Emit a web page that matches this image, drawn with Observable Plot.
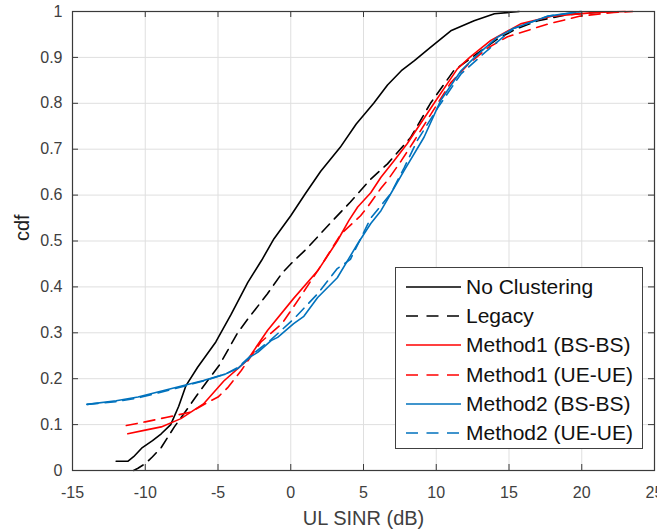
<!DOCTYPE html>
<html>
<head>
<meta charset="utf-8">
<script src="https://cdn.jsdelivr.net/npm/d3@7"></script>
<script src="https://cdn.jsdelivr.net/npm/@observablehq/plot@0.6"></script>
<style>
  body { margin: 0; background: #fff; }
  #wrap { position: relative; width: 672px; height: 529px; font-family: "Liberation Sans", Arial, sans-serif; }
  #legend { position: absolute; left: 395px; top: 267px; width: 246px; height: 180px; background: #fff; border: 1px solid #404040; }
  #legend .row { position: absolute; left: 0; height: 24px; display: flex; align-items: center; font-size: 21px; color: #111; white-space: nowrap; }
  #legend svg { display: block; margin-left: 10px; margin-right: 5px; }
  #cut { position: absolute; left: 657px; top: 476px; width: 15px; height: 24px; background: #fff; }
</style>
</head>
<body>
<div id="wrap"></div>
<script>
// ---- data ----
const xTicks = [-15, -10, -5, 0, 5, 10, 15, 20, 25];
const yTicks = [0, 0.1, 0.2, 0.3, 0.4, 0.5, 0.6, 0.7, 0.8, 0.9, 1];

const seriesNames = ["No Clustering", "Legacy", "Method1 (BS-BS)", "Method1 (UE-UE)", "Method2 (BS-BS)", "Method2 (UE-UE)"];
const seriesColors = ["#000000", "#000000", "#ff0000", "#ff0000", "#0072bd", "#0072bd"];
const seriesDashed = [false, true, false, true, false, true];

const noClusterX = [-12, -11.2, -10.8, -10.2, -9.5, -8.9, -8.25, -7.7, -7.2, -6.4, -5.15, -4.1, -2.95, -2.0, -1.15, 0, 1.0, 2.06, 3.4, 4.5, 5.7, 6.65, 7.6, 8.5, 9.6, 11.0, 12.6, 14.0, 15.7];
const noClusterY = [0.02, 0.02, 0.03, 0.05, 0.065, 0.08, 0.10, 0.14, 0.185, 0.225, 0.28, 0.34, 0.41, 0.458, 0.505, 0.555, 0.603, 0.652, 0.704, 0.755, 0.80, 0.84, 0.871, 0.893, 0.922, 0.958, 0.98, 0.995, 1.0];

const legacyX = [-10.8, -10.5, -10, -9.5, -8.9, -8.0, -7.2, -6.2, -4.9, -3.65, -2.95, -1.6, -0.6, 0, 1.15, 2.75, 4.1, 4.8, 5.5, 6.65, 8.25, 9.6, 11.2, 12.8, 14.2, 15.5, 17, 19, 21, 23];
const legacyY = [0, 0.005, 0.015, 0.03, 0.05, 0.095, 0.13, 0.175, 0.23, 0.30, 0.33, 0.385, 0.43, 0.45, 0.485, 0.54, 0.585, 0.61, 0.635, 0.668, 0.726, 0.80, 0.871, 0.908, 0.94, 0.962, 0.98, 0.993, 0.998, 1];

const m1bsX = [-11.2, -10, -8.9, -7.55, -6.0, -4.6, -3.0, -1.6, 0.2, 1.85, 3.2, 4.0, 4.6, 5.5, 6.2, 7.1, 8.0, 8.9, 9.85, 11.45, 12.3, 13.75, 15.8, 18, 21, 23];
const m1bsY = [0.08, 0.088, 0.095, 0.113, 0.145, 0.195, 0.24, 0.305, 0.375, 0.435, 0.50, 0.545, 0.574, 0.605, 0.639, 0.675, 0.712, 0.755, 0.80, 0.875, 0.90, 0.937, 0.973, 0.99, 0.998, 1];

const m1ueX = [-11.3, -10, -8.5, -6.9, -5.5, -5.0, -4.35, -3.4, -2.05, -0.6, 0.8, 2.3, 3.45, 4.8, 5.3, 6.2, 6.65, 7.6, 8.5, 10.1, 11.0, 12.2, 13.5, 14.9, 17.7, 19.9, 22.2, 23.5];
const m1ueY = [0.098, 0.106, 0.116, 0.127, 0.152, 0.16, 0.18, 0.218, 0.28, 0.32, 0.385, 0.457, 0.515, 0.555, 0.575, 0.615, 0.632, 0.675, 0.719, 0.80, 0.845, 0.885, 0.92, 0.945, 0.973, 0.99, 0.998, 1];

const m2bsX = [-14, -12, -10.5, -8.25, -6.0, -4.5, -3.65, -2.75, -2.25, -1.35, -0.9, 0.2, 0.9, 1.85, 3.2, 4.6, 5.5, 6.2, 7.0, 7.8, 9.16, 10.3, 11.7, 12.8, 14.2, 15.3, 17.7, 19.9];
const m2bsY = [0.144, 0.152, 0.16, 0.178, 0.196, 0.21, 0.222, 0.248, 0.258, 0.283, 0.29, 0.32, 0.336, 0.377, 0.42, 0.494, 0.538, 0.566, 0.61, 0.654, 0.726, 0.806, 0.871, 0.905, 0.944, 0.963, 0.99, 1];

const m2ueX = [-14, -12, -10.5, -8.25, -6.0, -4.5, -3.65, -2.75, -1.35, 0.2, 1.85, 3.2, 4.1, 5.5, 6.87, 7.8, 8.7, 10.1, 11.7, 13.5, 15.3, 17.7, 20];
const m2ueY = [0.144, 0.15, 0.158, 0.176, 0.195, 0.21, 0.224, 0.25, 0.285, 0.33, 0.385, 0.44, 0.46, 0.55, 0.603, 0.66, 0.719, 0.79, 0.864, 0.915, 0.963, 0.99, 1];

const seriesX = [noClusterX, legacyX, m1bsX, m1ueX, m2bsX, m2ueX];
const seriesY = [noClusterY, legacyY, m1bsY, m1ueY, m2bsY, m2ueY];

// ---- chart ----
const axisColor = "#3a3a3a";
const W = 672, H = 529, mL = 72, mR = 18, mT = 11, mB = 59;
const fw = W - mL - mR, fh = H - mT - mB, tl = 6;
const dash = "11,7";

const lineMarks = seriesNames.map((name, i) =>
  Plot.line(seriesX[i].map((x, j) => ({x, y: seriesY[i][j]})), {
    x: "x", y: "y", stroke: seriesColors[i], strokeWidth: 1.6,
    strokeDasharray: seriesDashed[i] ? dash : null
  })
);

const chart = Plot.plot({
  width: W, height: H,
  marginLeft: mL, marginRight: mR, marginTop: mT, marginBottom: mB,
  x: {domain: [-15, 25]},
  y: {domain: [0, 1]},
  style: {fontFamily: "'Liberation Sans', Arial, sans-serif", fontSize: "16px", color: "#404040", background: "#fff"},
  marks: [
    Plot.gridX(xTicks, {stroke: "#dfdfdf", strokeOpacity: 1}),
    Plot.gridY(yTicks, {stroke: "#dfdfdf", strokeOpacity: 1}),
    ...lineMarks,
    Plot.ruleX(xTicks, {insetTop: fh - tl, stroke: axisColor}),
    Plot.ruleX(xTicks, {insetBottom: fh - tl, stroke: axisColor}),
    Plot.ruleY(yTicks, {insetRight: fw - tl, stroke: axisColor}),
    Plot.ruleY(yTicks, {insetLeft: fw - tl, stroke: axisColor}),
    Plot.frame({stroke: axisColor, strokeWidth: 1.2}),
    Plot.axisX(xTicks, {tickSize: 0, tickPadding: 16, label: null, tickFormat: d => String(d), fill: "#404040"}),
    Plot.axisY(yTicks, {tickSize: 0, tickPadding: 10, label: null, tickFormat: d => String(d), fill: "#404040"}),
    Plot.text(["UL SINR (dB)"], {text: d => d, frameAnchor: "bottom", dy: 48, fontSize: 20, lineAnchor: "middle", fill: "#404040"}),
    Plot.text(["cdf"], {text: d => d, frameAnchor: "left", dx: -50, rotate: -90, fontSize: 20, fill: "#202020"})
  ]
});

const wrap = document.getElementById("wrap");
wrap.appendChild(chart);

// legend
const lg = document.createElement("div");
lg.id = "legend";
seriesNames.forEach((name, i) => {
  const row = document.createElement("div");
  row.className = "row";
  row.style.top = (7 + i * 29.2) + "px";
  const ns = "http://www.w3.org/2000/svg";
  const s = document.createElementNS(ns, "svg");
  s.setAttribute("width", 55); s.setAttribute("height", 6);
  const l = document.createElementNS(ns, "line");
  l.setAttribute("x1", 0); l.setAttribute("x2", 55); l.setAttribute("y1", 3); l.setAttribute("y2", 3);
  l.setAttribute("stroke", seriesColors[i]); l.setAttribute("stroke-width", 1.6);
  if (seriesDashed[i]) l.setAttribute("stroke-dasharray", "12,8.5");
  s.appendChild(l);
  row.appendChild(s);
  const t = document.createElement("span");
  t.textContent = name;
  row.appendChild(t);
  lg.appendChild(row);
});
wrap.appendChild(lg);

const cut = document.createElement("div");
cut.id = "cut";
wrap.appendChild(cut);
</script>
</body>
</html>
